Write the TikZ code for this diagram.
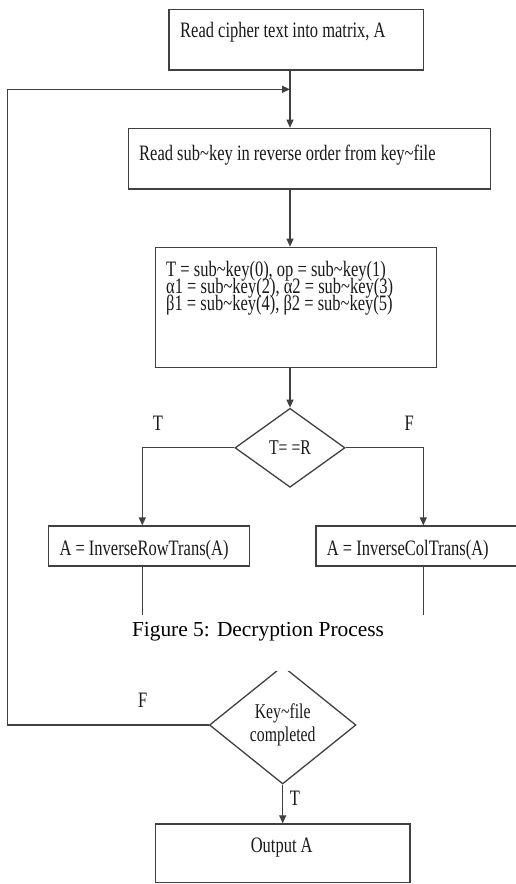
\documentclass[tikz,border=0pt]{standalone}
\usepackage{fontspec}
\setmainfont{Liberation Serif}
\newfontfamily\boxfont[FakeStretch=0.75]{Liberation Serif}
\usetikzlibrary{arrows.meta,shapes.geometric}
\newcommand{\tld}{\textasciitilde}

\begin{document}
\begin{tikzpicture}[x=1pt, y=-1pt]
  \tikzset{ln/.style={draw=black!75, line width=1.3pt},
           blk/.style={ln, rectangle, inner sep=0pt},
           dec/.style={ln, diamond, inner sep=0pt, align=center, text=black!90,
                       font={\boxfont\fontsize{21}{23}\selectfont}},
           txt/.style={inner sep=0pt, text=black!90,
                       font={\boxfont\fontsize{22}{17}\selectfont\lineskiplimit=-30pt}},
           arr/.style={-{Triangle[length=8pt, width=7pt]}}}
  \useasboundingbox (0,0) rectangle (515,884);
  % ---- process boxes: name / centre x / centre y / width / height ----
  \foreach \n/\cx/\cy/\w/\h in {box1/296.2/39.7/254.3/60.7, box2/309.5/158.7/362.4/60.7,
                                box3/296.2/307.3/281/120, box4/148.8/546/201/40,
                                box5/416.5/546/201/40, box6/282.8/853.3/254.3/58.7} {
    \node[blk, minimum width=\w pt, minimum height=\h pt] (\n) at (\cx,\cy) {};
  }
  \foreach \n/\x/\y/\t in {t1/180/37/{Read cipher text into matrix, A},
                           t2/139/160.5/{Read sub\tld key in reverse order from key\tld file},
                           t4/59.3/555/{A = InverseRowTrans(A)},
                           t5/326.7/555/{A = InverseColTrans(A)}} {
    \node[txt, anchor=base west] (\n) at (\x,\y) {\t};
  }
  \node[txt, align=left, anchor=north west] (t3) at (166,261)
    {T = sub\tld key(0), op = sub\tld key(1)\\
     α1 = sub\tld key(2), α2 = sub\tld key(3)\\
     β1 = sub\tld key(4), β2 = sub\tld key(5)};
  \node[txt] (t6) at (281.7,848) {Output A};
  % ---- decisions ----
  \node[dec, minimum width=110pt, minimum height=79pt] (dia1) at (290,447.8) {T= =R};
  \begin{scope}
    \clip (0,671.7) rectangle (515,884);
    \node[dec, minimum width=146.6pt, minimum height=118pt] (dia2) at (282.7,725) {Key\tld file\\completed};
  \end{scope}
  % ---- connectors ----
  \coordinate (loop) at (7.3,89.3);
  \coordinate (cut) at (0,615);
  \coordinate (colL) at (142.3,0);
  \coordinate (colR) at (423.3,0);
  \draw[ln, arr] (box1.south -| dia1.north) -- (box2.north -| dia1.north);
  \draw[ln, arr] (box2.south -| dia1.north) -- (box3.north -| dia1.north);
  \draw[ln, arr] (box3.south -| dia1.north) -- (dia1.north);
  \draw[ln, arr] (dia1.west) -| (colL |- box4.north);
  \draw[ln, arr] (dia1.east) -| (colR |- box5.north);
  \draw[ln] (box4.south -| colL) -- (cut -| colL);
  \draw[ln] (box5.south -| colR) -- (cut -| colR);
  \draw[ln, arr] (dia2.west) -| (loop) -- (loop -| dia1.north);
  \draw[ln, arr] (dia2.south) -- (box6.north -| dia2.south);
  % ---- branch labels and caption ----
  \foreach \n/\x/\y/\t in {lt/158/423/T, lf/409.3/423/F, kf/142.7/700/F, kt/295/798/T} {
    \node[txt] (\n) at (\x,\y) {\t};
  }
  \node[inner sep=0pt, anchor=base, font=\fontsize{21.4}{24}\selectfont] (cap) at (258,636.7)
    {Figure 5: Decryption Process};
\end{tikzpicture}
\end{document}
